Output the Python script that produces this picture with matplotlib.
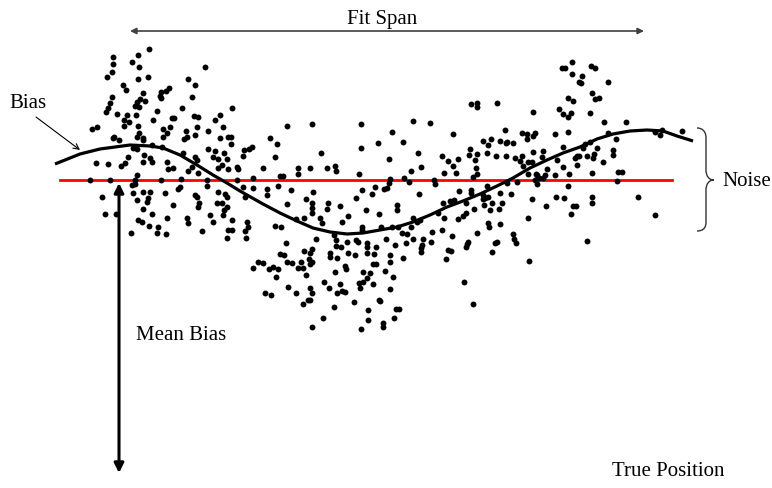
import numpy as np
import matplotlib
matplotlib.use('Agg')
import matplotlib.pyplot as plt
from matplotlib.path import Path
from matplotlib.patches import PathPatch

# 坐标系：x 向右，y 向下（与画布像素一致）
# 偏差曲线上的采样点
curve_x = [55, 80, 100, 130, 150, 163, 180, 197, 213, 227, 240, 247, 263, 280, 297, 313, 330,
           347, 363, 380, 397, 413, 430, 447, 463, 480, 497, 513, 530, 547, 563, 580, 597,
           613, 630, 647, 663, 677, 693]
curve_y = [164, 154, 149, 145, 146, 148, 155, 165, 175, 183, 191, 195, 204, 213, 221, 228, 232,
           234, 233, 230, 227, 222, 215, 207, 201, 194, 186, 178, 168, 160, 153, 147, 139,
           134, 131, 130, 131, 136, 141]

# 平均偏差（红线）
mean_level = 180
mean_span = (60, 672)

# 测量点
dots = np.array([
    # 左侧
    (149, 49), (113, 57), (138, 55), (132, 62), (113, 64), (139, 67), (112, 72), (107, 77), (148, 77),
    (138, 79), (205, 67), (188, 79), (123, 85), (195, 85), (126, 90), (143, 93), (169, 88), (161, 92),
    (166, 91), (140, 99), (112, 97), (160, 96), (161, 98), (192, 97), (110, 103), (108, 108), (106, 112),
    (137, 102), (145, 101), (139, 107), (135, 106), (182, 108), (232, 108), (157, 111), (117, 114),
    (127, 115), (136, 115), (124, 120), (129, 122), (153, 120), (172, 118), (174, 118), (194, 116),
    (198, 117), (215, 120), (220, 115), (97, 127), (92, 129), (124, 126), (138, 126), (163, 129),
    (170, 127), (186, 131), (197, 127), (208, 131), (223, 127), (139, 133), (143, 138), (137, 137),
    (114, 137), (113, 138), (119, 140), (163, 137), (167, 133), (187, 137), (184, 139), (195, 135),
    (228, 137), (220, 138), (143, 140), (231, 144), (133, 148), (137, 149), (152, 145), (162, 147),
    (183, 153), (208, 149), (215, 151), (224, 153), (144, 155), (150, 158), (128, 157), (96, 163),
    (108, 164), (121, 166), (125, 163), (143, 162), (152, 162), (167, 162), (173, 168), (168, 169),
    (195, 157), (197, 160), (213, 157), (218, 159), (227, 159), (222, 165), (218, 168), (192, 167),
    (188, 171), (198, 173), (228, 169), (237, 167), (90, 180), (110, 180), (137, 175), (135, 180),
    (161, 180), (181, 179), (207, 180), (237, 180), (132, 185), (135, 184), (133, 193), (143, 192),
    (150, 192), (148, 198), (165, 193), (180, 187), (178, 189), (207, 186), (195, 195), (197, 197),
    (218, 192), (225, 194), (227, 197), (102, 197), (137, 200), (147, 202), (173, 205), (199, 203),
    (198, 207), (217, 203), (222, 203), (224, 210), (227, 207), (105, 214), (116, 214), (143, 209),
    (152, 214), (187, 218), (167, 218), (188, 223), (210, 215), (223, 215), (213, 222), (138, 220),
    (142, 222), (149, 226), (158, 227), (228, 230), (232, 230), (157, 233), (166, 234), (131, 233),
    (202, 231), (227, 238),
    # 中左
    (287, 126), (312, 124), (361, 124), (231, 137), (270, 138), (277, 144), (244, 150), (243, 156),
    (249, 149), (252, 147), (275, 157), (321, 153), (361, 148), (378, 143), (389, 159), (238, 169),
    (263, 168), (298, 168), (298, 174), (310, 168), (327, 168), (335, 166), (336, 171), (359, 174),
    (253, 178), (280, 176), (283, 176), (243, 187), (253, 188), (278, 186), (267, 189), (267, 195),
    (291, 190), (313, 192), (362, 190), (375, 187), (372, 194), (245, 197), (287, 204),
    (306, 199), (312, 203), (312, 208), (328, 203), (327, 209), (340, 206), (356, 198), (366, 210),
    (312, 213), (320, 218), (322, 223), (304, 218), (296, 219), (348, 216), (342, 222), (379, 214),
    (232, 220), (247, 222), (248, 227), (245, 231), (246, 238), (275, 226), (281, 227), (316, 239),
    (334, 235), (336, 240), (336, 246), (341, 247), (347, 242), (356, 240), (358, 242), (367, 243),
    (367, 247), (362, 227), (362, 230), (381, 227), (386, 239), (376, 247), (286, 243), (312, 249),
    (310, 253), (309, 259), (304, 251), (280, 254), (284, 255), (330, 253), (330, 257), (337, 258),
    (348, 253), (355, 255), (367, 253), (374, 254), (373, 264), (376, 264), (258, 262), (263, 263),
    (253, 268), (269, 269), (273, 267), (278, 269), (287, 262), (292, 263), (301, 262), (303, 268),
    (298, 268), (312, 262), (310, 264), (306, 275), (276, 277), (335, 272), (345, 266), (346, 269),
    (363, 272), (370, 273), (367, 278), (363, 282), (385, 271), (324, 282), (329, 288), (340, 284),
    (359, 283), (360, 288), (373, 284), (288, 287), (296, 293), (265, 293), (271, 295), (310, 288),
    (312, 293), (310, 300), (337, 293), (342, 291), (345, 292), (303, 304), (308, 300), (354, 302),
    (379, 300), (334, 307), (368, 310), (323, 318), (368, 320), (312, 327), (361, 329), (383, 323),
    (383, 327),
    # 中右
    (471, 104), (477, 103), (477, 107), (497, 103), (533, 112), (413, 121), (430, 123), (392, 132),
    (453, 134), (403, 142), (505, 130), (522, 133), (527, 134), (527, 139), (483, 141), (488, 145),
    (491, 139), (500, 141), (507, 142), (506, 143), (513, 143), (470, 149), (469, 155), (477, 154),
    (475, 160), (487, 153), (496, 156), (506, 156), (515, 158), (520, 161), (522, 156), (528, 162),
    (418, 153), (442, 156), (448, 161), (453, 166), (458, 159), (421, 167), (411, 171), (444, 173),
    (456, 173), (476, 168), (477, 174), (473, 177), (523, 166), (528, 174), (536, 174), (390, 179),
    (389, 183), (387, 188), (384, 189), (404, 178), (409, 182), (434, 180), (435, 184), (517, 182),
    (507, 183), (487, 186), (419, 194), (459, 191), (471, 190), (471, 193), (483, 195), (485, 198),
    (488, 197), (483, 199), (500, 193), (511, 194), (450, 201), (454, 200), (443, 203), (466, 203),
    (484, 205), (492, 203), (502, 203), (397, 205), (397, 210), (474, 209), (490, 210), (499, 209),
    (438, 213), (444, 218), (463, 216), (466, 213), (458, 219), (413, 218), (417, 222), (420, 220),
    (528, 218), (392, 227), (398, 227), (411, 227), (488, 223), (489, 227), (500, 224), (432, 232),
    (442, 230), (452, 236), (402, 233), (407, 234), (413, 239), (423, 239), (477, 233), (513, 234),
    (514, 239), (516, 243), (395, 245), (406, 243), (422, 245), (421, 248), (421, 252), (431, 242),
    (468, 242), (467, 244), (466, 247), (495, 243), (497, 242), (492, 252), (448, 250), (451, 251),
    (390, 255), (390, 262), (403, 258), (446, 259), (529, 261), (393, 277), (390, 289), (464, 282),
    (380, 301), (473, 304), (396, 309), (399, 309), (394, 318),
    # 右侧
    (572, 62), (562, 68), (565, 68), (591, 66), (595, 68), (572, 74), (582, 76), (579, 82), (581, 83),
    (608, 82), (592, 93), (568, 98), (573, 101), (595, 99), (599, 98), (559, 109), (563, 114),
    (568, 117), (571, 113), (590, 113), (604, 122), (626, 122), (535, 133), (533, 136), (555, 134),
    (568, 132), (608, 133), (616, 139), (655, 132), (662, 130), (660, 135), (682, 131), (590, 142),
    (585, 144), (563, 147), (533, 152), (543, 151), (542, 157), (583, 148), (597, 148), (613, 150),
    (613, 155), (577, 156), (579, 156), (575, 158), (587, 156), (593, 158), (594, 154), (557, 160),
    (532, 162), (603, 162), (577, 165), (563, 167), (547, 169), (618, 172), (622, 172), (592, 173),
    (569, 174), (555, 175), (537, 175), (545, 175), (539, 178), (535, 180), (543, 178), (537, 184),
    (617, 181), (568, 186), (556, 197), (564, 198), (592, 197), (592, 203), (638, 197), (532, 199),
    (546, 206), (573, 206), (576, 206), (571, 214), (655, 215), (587, 241),
])

serif = ['Liberation Serif', 'DejaVu Serif']

fig = plt.figure(figsize=(7.72, 4.88), dpi=100)
ax = fig.add_axes([0, 0, 1, 1])
ax.set_xlim(0, 772)
ax.set_ylim(488, 0)
ax.axis('off')

# 散点
ax.scatter(dots[:, 0], dots[:, 1], s=18, color='black', linewidths=0, zorder=3)

# 平均偏差线 + 偏差曲线
ax.plot(mean_span, [mean_level, mean_level], color='#ff0000', lw=2.0, zorder=2)
ax.plot(curve_x, curve_y, color='black', lw=2.3, zorder=4, solid_capstyle='butt')

# Fit Span 箭头
ax.annotate('', xy=(130, 31), xytext=(644, 31),
            arrowprops=dict(arrowstyle='<|-|>', color='#404040', lw=1.2,
                            mutation_scale=9, shrinkA=0, shrinkB=0))
ax.text(382, 24, 'Fit Span', family=serif, fontsize=15, ha='center', va='baseline')

# Bias 指示箭头
ax.annotate('', xy=(80, 150), xytext=(36, 117),
            arrowprops=dict(arrowstyle='->', color='black', lw=0.8,
                            mutation_scale=10, shrinkA=0, shrinkB=0))
ax.text(9, 108, 'Bias', family=serif, fontsize=15, ha='left', va='baseline')

# Mean Bias 双向箭头
ax.annotate('', xy=(119, 183), xytext=(119, 473),
            arrowprops=dict(arrowstyle='<|-|>', color='black', lw=2.2,
                            mutation_scale=14, shrinkA=0, shrinkB=0))
ax.text(136, 340, 'Mean Bias', family=serif, fontsize=15, ha='left', va='baseline')

# Noise 花括号
verts = [(697, 128), (702, 128), (706, 131), (706, 138),
         (706, 170),
         (706, 176), (709, 180), (714, 180),
         (709, 180), (706, 184), (706, 190),
         (706, 222),
         (706, 229), (702, 231), (697, 231)]
codes = [Path.MOVETO, Path.CURVE4, Path.CURVE4, Path.CURVE4,
         Path.LINETO,
         Path.CURVE4, Path.CURVE4, Path.CURVE4,
         Path.CURVE4, Path.CURVE4, Path.CURVE4,
         Path.LINETO,
         Path.CURVE4, Path.CURVE4, Path.CURVE4]
ax.add_patch(PathPatch(Path(verts, codes), fill=False, edgecolor='#333333', lw=1.0))
ax.text(722, 186, 'Noise', family=serif, fontsize=15, ha='left', va='baseline')

ax.text(612, 476, 'True Position', family=serif, fontsize=15, ha='left', va='baseline')

plt.savefig('out.png', dpi=100)
